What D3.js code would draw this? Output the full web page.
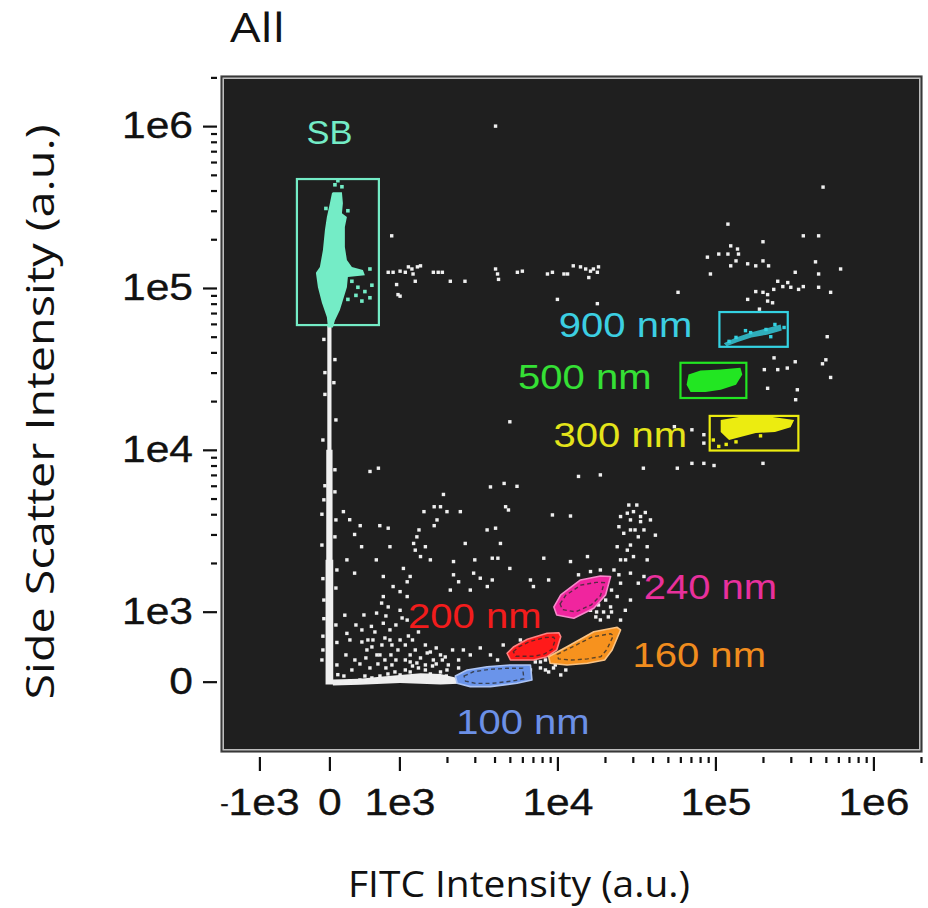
<!DOCTYPE html>
<html>
<head>
<meta charset="utf-8">
<script src="https://cdn.jsdelivr.net/npm/d3@7"></script>
<style>
  html, body { margin: 0; background: #ffffff; }
  svg { display: block; }
</style>
</head>
<body>
<svg id="chart" width="928" height="908"></svg>
<script>
// ---- axis ticks ----
const xMajorTicks  = [-1e3, 0, 1e3, 1e4, 1e5, 1e6];
const xMajorLabels = ["-1e3", "0", "1e3", "1e4", "1e5", "1e6"];
const yMajorTicks  = [0, 1e3, 1e4, 1e5, 1e6];
const yMajorLabels = ["0", "1e3", "1e4", "1e5", "1e6"];
const minorDecades = [1e3, 1e4, 1e5];
const minorSteps   = [2, 3, 4, 5, 6, 7, 8, 9];
const topMinor     = [2e6];

// ---- axis extents (FITC, side scatter) ----
const xExtent = [-1750, 2.03e6];
const yExtent = [-1005, 2.04e6];

// ---- gates: rectangles [[xmin, ymin], [xmax, ymax]] ----
const gateSB   = [[-464, 5.9e4], [707, 4.71e5]];
const gate900  = [[1.06e5, 4.33e4], [2.87e5, 7.1e4]];
const gate500  = [[6.01e4, 2.09e4], [1.57e5, 3.45e4]];
const gate300  = [[9.2e4, 9.9e3], [3.35e5, 1.62e4]];

// ---- gates: polygons (FITC, SSC) ----
const gate240 = [[9.5e3,1070],[1.05e4,1270],[1.4e4,1570],[1.87e4,1660],[2.17e4,1650],[2.02e4,1270],[1.7e4,1050],[1.27e4,906],[9.9e3,953]];
const gate200 = [[4.8e3,406],[5.3e3,500],[6.45e3,606],[8.6e3,692],[1.02e4,700],[1.05e4,643],[9.9e3,453],[8.6e3,357],[7.05e3,310],[5.04e3,310]];
const gate160 = [[8.8e3,357],[1.15e4,500],[1.7e4,714],[2.39e4,777],[2.51e4,739],[2.22e4,453],[1.99e4,310],[1.55e4,263],[1.15e4,239],[9.0e3,263]];
const gate100 = [[2.26e3,81],[2.68e3,167],[3.59e3,214],[5.04e3,239],[6.75e3,239],[6.9e3,24],[5.55e3,-23],[3.77e3,-71],[2.81e3,-71],[2.32e3,-23]];

// ---- dense populations (FITC, SSC) ----
const popSB = [[50,3.9e5],[179,3.9e5],[193,3.34e5],[179,2.9e5],[250,2.74e5],[221,2.38e5],[221,1.79e5],[250,1.49e5],[321,1.35e5],[479,1.29e5],[507,1.2e5],[264,1.17e5],[250,1.01e5],[193,8.4e4],[150,7.3e4],[79,6.3e4],[50,5.7e4],[-21,5.7e4],[-36,6.6e4],[-107,8.1e4],[-164,1.01e5],[-193,1.24e5],[-136,1.35e5],[-93,1.71e5],[-64,2.28e5],[-36,2.74e5],[7,3.34e5],[36,3.85e5]];
const pop500 = [[6.76e4,2.92e4],[8.05e4,3.09e4],[1.08e5,3.13e4],[1.44e5,3.22e4],[1.48e5,2.92e4],[1.35e5,2.52e4],[1.08e5,2.35e4],[8.66e4,2.28e4],[6.96e4,2.28e4],[6.57e4,2.52e4]];
const pop300 = [[1.08e5,1.53e4],[1.44e5,1.6e4],[2.24e5,1.6e4],[3.15e5,1.53e4],[2.99e5,1.38e4],[2.38e5,1.29e4],[1.8e5,1.27e4],[1.44e5,1.2e4],[1.22e5,1.15e4],[1.08e5,1.29e4]];
const pop900 = [[1.13e5,4.55e4],[1.35e5,4.95e4],[1.67e5,5.3e4],[2.09e5,5.62e4],[2.59e5,5.95e4],[2.63e5,5.46e4],[2.12e5,5.14e4],[1.69e5,4.95e4],[1.37e5,4.62e4],[1.18e5,4.36e4]];
const popStreak = [[-30,5.9e4],[30,5.9e4],[30,1e4],[45,1e4],[45,2.09e3],[55,2.09e3],[55,-40],[-55,-40],[-55,2.09e3],[-45,2.09e3],[-45,1e4],[-30,1e4]];
const popBase = [[50,-55],[50,30],[436,40],[722,70],[1010,95],[1360,120],[1820,110],[2260,60],[2370,-30],[1820,-40],[1010,-20],[436,-45]];

// ---- individual events (FITC, SSC) ----
const eventsAll = [
  [890,2.1e5],[840,1.25e5],[910,1.25e5],[1010,1.27e5],[1090,1.25e5],[1140,1.35e5],[1200,1.31e5],[1300,1.35e5],[1360,1.37e5],[1220,1.22e5],
  [1260,1.1e5],[960,1.05e5],[980,9.1e4],[1010,8.9e4],[1640,1.25e5],[1760,1.25e5],[1870,1.25e5],[2100,1.1e5],[2600,1.1e5],[4060,1.31e5],
  [4180,1.22e5],[4240,1.13e5],[5580,1.25e5],[6000,1.27e5],[8650,1.22e5],[9300,1.25e5],[1.1e4,1.22e5],[1.16e4,1.22e5],[1.26e4,1.37e5],[1.4e4,1.35e5],
  [1.51e4,1.31e5],[1.62e4,1.27e5],[1.69e4,1.31e5],[1.82e4,1.35e5],[1.58e4,1.16e5],[1.79e4,1.25e5],[1.0e4,8.5e4],[1.79e4,8.0e4],[5.8e4,9.4e4],
  [1.2e5,2.48e5],[1.25e5,1.82e5],[1.38e5,1.74e5],[1.4e5,1.62e5],[1.05e5,1.62e5],[1.2e5,1.62e5],[8.9e4,1.55e5],[1.35e5,1.47e5],[1.25e5,1.37e5],
  [9.3e4,1.22e5],[2.0e5,1.93e5],[1.6e5,1.41e5],[1.8e5,1.37e5],[2.0e5,1.47e5],[2.17e5,1.37e5],[3.6e5,2.1e5],[4.5e5,2.1e5],[4.3e5,1.45e5],
  [3.2e5,1.25e5],[4.5e5,1.22e5],[6.2e5,1.31e5],[2.48e5,1.1e5],[2.67e5,1.02e5],[2.87e5,1.08e5],[3.0e5,1.01e5],[3.36e5,9.8e4],[3.6e5,1.02e5],
  [2.34e5,9.8e4],[1.8e5,9.5e4],[2.0e5,9.4e4],[2.14e5,9.1e4],[4.5e5,1.01e5],[5.36e5,9.4e4],[1.6e5,8.5e4],[2.14e5,8.3e4],[2.3e5,8.1e4],
  [1.9e5,7.4e4],[5.1e5,5.0e4],[4.8e5,4.2e5],[4060,1.0e6],
  [2.35e5,3.7e4],[3.2e5,3.5e4],[5.0e5,3.6e4],[4.76e5,3.4e4],[2.04e5,3.13e4],[2.48e5,3.13e4],[2.85e5,3.2e4],[5.36e5,2.8e4],[2.14e5,2.4e4],
  [3.3e5,2.35e4],[3.22e5,2.04e4],[5.0e3,1.49e4],[5.5e4,1.39e4],[7.1e4,1.33e4],[8.45e4,1.24e4],[8.45e4,1.1e4],[7.1e4,8.25e3],[8.45e4,8.25e3],
  [9.8e4,8.0e3],[2.0e5,8.25e3],[3.5e4,7.7e3],[5.74e4,7.7e3],
  [580,7.35e3],[700,7.7e3],[3770,5.9e3],[4600,6.2e3],[5550,5.95e3],[1.36e4,6.85e3],[1.87e4,7.0e3],[1900,5.3e3],[200,4.15e3],[290,3.7e3],
  [1430,4.15e3],[1660,4.45e3],[1820,4.45e3],[2000,4.15e3],[2430,4.15e3],[1730,3.69e3],[1660,3.4e3],[4700,4.45e3],[4900,4.25e3],[9300,3.96e3],
  [1.21e4,3.9e3],[440,3.4e3],[720,3.4e3],[840,3.28e3],[1330,3.2e3],[1290,2.9e3],[3590,3.2e3],[4060,3.28e3],[360,3.0e3],[460,2.52e3],
  [865,2.52e3],[1230,2.64e3],[1260,2.4e3],[1460,2.52e3],[2610,2.64e3],[4360,2.64e3],[250,2.09e3],[670,2.09e3],[1360,2.19e3],[1570,2.09e3],
  [2200,2.04e3],[3000,2.09e3],[3870,2.14e3],[4200,2.14e3],[8200,2.14e3],[1.21e4,2.04e3],[1.55e4,2.19e3],[360,1.73e3],[770,1.65e3],[1060,1.85e3],
  [1170,1.65e3],[1120,1.53e3],[2200,1.69e3],[2950,1.73e3],[3250,1.61e3],[5000,1.85e3],[6750,1.57e3],[3870,1.57e3],[2370,1.53e3],[910,1.43e3],
  [1010,1.33e3],[770,1.24e3],[1120,1.24e3],[746,1.13e3],[840,1.07e3],[1010,1.02e3],[1120,880],[674,980],[600,790],[770,835],
  [865,740],[220,950],[250,690],[2100,1.36e3],[2810,1.36e3],[3600,1.43e3],[7050,1.43e3],[8800,1.57e3],[9900,1.07e3],[1.27e4,1.24e3],
  [1.36e4,1.69e3],[1.62e4,1.77e3],[1.87e4,1.81e3],
  [2.51e4,3.87e3],[2.77e4,4.06e3],[2.9e4,3.69e3],[3.03e4,4.15e3],[3.36e4,3.87e3],[2.45e4,3.35e3],[2.63e4,3.05e3],[2.9e4,3.2e3],[3.25e4,2.9e3],
  [3.53e4,3.2e3],[2.39e4,2.52e3],[2.77e4,2.4e3],[3.03e4,2.19e3],[3.7e4,2.09e3],[2.51e4,2.09e3],[3.7e4,2.52e3],[2.28e4,1.81e3],[2.9e4,1.73e3],
  [3.25e4,1.5e3],[2.51e4,1.5e3],[3.53e4,1.65e3],[2.39e4,1.24e3],[2.9e4,1.18e3],[2.69e4,1.02e3],[2.51e4,880],[2.17e4,1.07e3],
  [2.02e4,1.18e3],[2.2e4,1.36e3],[2.45e4,1.69e3],[2.7e4,2.09e3],[2.9e4,2.58e3],[3.1e4,3.2e3],[3.36e4,3.6e3],[3.6e4,4.1e3],[2.83e4,4.56e3],
  [3.18e4,4.56e3],[3.88e4,3.69e3],[4.17e4,2.97e3],[2.2e4,996],[1.77e4,996],
  [150,-19],[293,10],[436,24],[507,81],[607,53],[722,81],[836,110],[936,139],[1010,96],[1090,167],[1170,139],[1320,196],[1460,167],
  [1620,224],[1820,139],[1980,81],[2170,24],[536,453],[607,496],[679,382],[793,310],[893,239],[1290,267],[1500,410],[1640,310],
  [1820,382],[2000,167],[2370,310],[2540,453],[2810,382],[3250,482],[3770,382],[4180,310],[4540,524],[5830,596],[6750,453],[7810,282],
  [8400,167],[9450,196],[1.05e4,96],[1.13e4,167],[1.62e4,1020],[1.82e4,1100],[1.96e4,996],[2.1e4,925],[1.75e4,925],[1.87e4,882],
  [1090,310],[1170,382],[1260,453],[1360,339],[1460,524],[1570,424],[1710,482],[1870,310],[2040,239],[1210,224],[1400,81],[1570,110],
  [1760,53],[1930,-4],[1040,24],[936,53],[836,24],[664,24],[521,10],[379,-4],[236,-4],[121,-4],[579,196],[693,253],[807,196],[950,310],
  [436,253],[321,167],[207,81],[893,524],[1010,596],[1140,653],[793,624],[622,596],[464,567],
  [464,739],[550,596],[650,710],[750,524],[865,596],[979,453],[1090,524],[1210,596],[1320,710],[950,810],[1040,910],[807,939],[493,953],
  [379,810],[293,596],[236,382],[364,310],[521,339],[722,382],[879,382],[1170,282],[1460,239],[1710,253],[1950,353],[2170,453],[2370,196],
  [2540,96],[7250,282],[7810,196],[8800,139],[9700,239],[6750,167],[8400,310],
  [-79,4.81e4],[79,3.61e4],[-64,2.2e4],[93,1.53e4],[-93,1.15e4],[79,7.53e3],[-79,4.91e3],[93,3.69e3],[-107,2.58e3],[107,1.81e3],
  [-79,1.18e3],[93,810],[-93,453],[107,239],[-107,310],[120,100],[-93,650],[-64,3.0e4],[64,2.6e4],[-64,6.0e3],[79,5.5e3],
  [-93,1.6e3],[93,1.4e3],[-79,900],[107,560],[79,2.9e3],[-107,4.0e3]
];
const eventsSB   = [[321,1.1e5],[407,1.01e5],[507,9.5e4],[579,8.7e4],[379,9.0e4],[464,8.3e4],[607,1.04e5],[264,8.5e4],[579,1.31e5],
  [79,4.34e5],[179,4.22e5],[121,4.6e5],[264,3.0e5],[-50,3.1e5]];
const events300  = [[9.7e4,1.15e4],[1.05e5,1.05e4],[1.17e5,1.08e4],[1.35e5,1.12e4],[1.93e5,1.22e4]];
const events900  = [[1.22e5,4.68e4],[1.35e5,4.95e4],[1.67e5,5.3e4],[2.09e5,5.54e4],[2.38e5,5.95e4],[2.72e5,5.7e4],[1.55e5,5.45e4],[2.24e5,5.0e4]];

// ---- annotation anchors (FITC, SSC) ----
const gateLabels = [
  { text: "900 nm", at: [2.7e4, 5.95e4], color: "#3ccfe2" },
  { text: "500 nm", at: [1.49e4, 2.82e4], color: "#35e035" },
  { text: "300 nm", at: [2.5e4, 1.24e4], color: "#e4e41a" },
  { text: "240 nm", at: [9.3e4, 1.43e3], color: "#e8309c" },
  { text: "200 nm", at: [3.0e3, 940],   color: "#f21c1c" },
  { text: "160 nm", at: [7.9e4, 380],   color: "#f08c1e" },
  { text: "100 nm", at: [6.05e3, -570], color: "#6c90e6" }
];
const sbLabel = { text: "SB", at: [0, 9.25e5], color: "#74ecc6" };

// ---- layout ----
const panel = { left: 221, right: 922, top: 76, bottom: 752 };
const arial = "'Liberation Sans', Arial, sans-serif";
const humanist = "'Open Sans', 'Noto Sans', sans-serif";
const tickFontSize = 37;

// Logicle-like display: linear within +-1e3, logarithmic outside.
function biexTransform(k) {
  return v => {
    const a = Math.abs(v);
    if (a <= 1000) return v / 1000;
    return Math.sign(v) * (1 + k * Math.log10(a / 1000));
  };
}
function biexScale(k, domain, range) {
  const t = biexTransform(k);
  const lin = d3.scaleLinear().domain(domain.map(t)).range(range);
  const s = v => lin(t(v));
  s.domain = () => domain.slice();
  s.range = () => lin.range();
  s.copy = () => biexScale(k, domain, range);
  return s;
}

const x = biexScale(158 / 70, xExtent, [panel.left, panel.right]);
const y = biexScale(161.9 / 70, yExtent, [panel.bottom, panel.top]);

// widen glyphs horizontally by a factor, or to a fixed length
function stretch(sel, factor) {
  sel.each(function () {
    const n = this.getComputedTextLength();
    d3.select(this).attr("textLength", n * factor).attr("lengthAdjust", "spacingAndGlyphs");
  });
}
function fitLength(sel, len) {
  sel.attr("textLength", len).attr("lengthAdjust", "spacingAndGlyphs");
}

const svg = d3.select("#chart");

// title
svg.append("text")
  .attr("x", 230).attr("y", 42)
  .attr("font-family", humanist).attr("font-size", 40).attr("fill", "#111")
  .text("All").call(fitLength, 55);

// plot panel with framed border
svg.append("rect")
  .attr("x", panel.left).attr("y", panel.top)
  .attr("width", panel.right - panel.left).attr("height", panel.bottom - panel.top)
  .attr("fill", "#1f1f1f").attr("stroke", "#4a4a4a").attr("stroke-width", 1.2);
svg.append("rect")
  .attr("x", panel.left + 2.2).attr("y", panel.top + 2.2)
  .attr("width", panel.right - panel.left - 4.4).attr("height", panel.bottom - panel.top - 4.4)
  .attr("fill", "none").attr("stroke", "#bdbdbd").attr("stroke-width", 1.6);

svg.append("defs").append("clipPath").attr("id", "panel-clip")
  .append("rect")
  .attr("x", panel.left + 3.5).attr("y", panel.top + 3.5)
  .attr("width", panel.right - panel.left - 7).attr("height", panel.bottom - panel.top - 7);
const plot = svg.append("g").attr("clip-path", "url(#panel-clip)");

const line = d3.line().x(d => x(d[0])).y(d => y(d[1])).curve(d3.curveLinearClosed);

// dense white populations
plot.append("path").attr("d", line(popStreak)).attr("fill", "#f0f0f0");
plot.append("path").attr("d", line(popBase)).attr("fill", "#eeeeee");

// individual events
function dots(data, color, size) {
  plot.append("g").selectAll("rect").data(data).join("rect")
    .attr("x", d => x(d[0]) - size / 2)
    .attr("y", d => y(d[1]) - size / 2)
    .attr("width", size).attr("height", size)
    .attr("fill", color);
}
dots(eventsAll, "#f0f0f0", 3.4);

// bead populations inside rectangular gates
plot.append("path").attr("d", line(popSB)).attr("fill", "#74ecc6");
dots(eventsSB, "#74ecc6", 3.6);
plot.append("path").attr("d", line(pop500)).attr("fill", "#22e622");
plot.append("path").attr("d", line(pop300)).attr("fill", "#ecec10");
dots(events300, "#ecec10", 3.4);
plot.append("path").attr("d", line(pop900)).attr("fill", "#34d2e2").attr("opacity", 0.8);
dots(events900, "#34d2e2", 3.4);

// rectangular gates
function rectGate(g, color) {
  plot.append("rect")
    .attr("x", x(g[0][0])).attr("y", y(g[1][1]))
    .attr("width", x(g[1][0]) - x(g[0][0]))
    .attr("height", y(g[0][1]) - y(g[1][1]))
    .attr("fill", "none").attr("stroke", color).attr("stroke-width", 2.2);
}
rectGate(gateSB, "#74ecc6");
rectGate(gate900, "#34d2e2");
rectGate(gate500, "#22e622");
rectGate(gate300, "#ecec10");

// polygon gates: filled population, light rim, dashed inner outline
function polyGate(g, color) {
  const rim = d3.interpolateRgb(color, "#ffffff")(0.45);
  plot.append("path").attr("d", line(g)).attr("fill", color)
    .attr("stroke", rim).attr("stroke-width", 1.6).attr("stroke-linejoin", "round");
  const pts = g.map(d => [x(d[0]), y(d[1])]);
  const c = d3.polygonCentroid(pts);
  const inner = pts.map(p => [c[0] + (p[0] - c[0]) * 0.78, c[1] + (p[1] - c[1]) * 0.7]);
  plot.append("path").attr("d", d3.line().curve(d3.curveLinearClosed)(inner))
    .attr("fill", "none").attr("stroke", "#2a2a2a").attr("stroke-opacity", 0.75)
    .attr("stroke-width", 1.4).attr("stroke-dasharray", "4,3");
}
polyGate(gate100, "#6a94ea");
polyGate(gate200, "#ff1a1a");
polyGate(gate160, "#f7921e");
polyGate(gate240, "#f0259e");

// gate labels
svg.append("g").selectAll("text").data(gateLabels).join("text")
  .attr("x", d => x(d.at[0])).attr("y", d => y(d.at[1]))
  .attr("dy", "0.36em")
  .attr("text-anchor", "middle")
  .attr("font-family", arial).attr("font-size", 34.5)
  .attr("fill", d => d.color)
  .text(d => d.text)
  .call(stretch, 1.16);
svg.append("text")
  .attr("x", x(sbLabel.at[0])).attr("y", y(sbLabel.at[1]))
  .attr("dy", "0.36em").attr("text-anchor", "middle")
  .attr("font-family", arial).attr("font-size", 34)
  .attr("fill", sbLabel.color)
  .text(sbLabel.text).call(fitLength, 46);

// axes
const minorTicks = minorDecades.flatMap(d => minorSteps.map(m => m * d)).concat(topMinor);

const yMajorAxis = d3.axisLeft(y).tickValues(yMajorTicks)
  .tickFormat((d, i) => yMajorLabels[i]).tickSize(14).tickPadding(10);
const yMinorAxis = d3.axisLeft(y).tickValues(minorTicks).tickFormat("").tickSize(6);
const xMajorAxis = d3.axisBottom(x).tickValues(xMajorTicks)
  .tickFormat((d, i) => xMajorLabels[i]).tickSize(14).tickPadding(18);
const xMinorAxis = d3.axisBottom(x).tickValues(minorTicks).tickFormat("").tickSize(6);

function styleAxis(g) {
  g.select(".domain").remove();
  g.selectAll("line").attr("stroke", "#111").attr("stroke-width", 2.2);
  g.selectAll("text").attr("font-family", arial).attr("font-size", tickFontSize).attr("fill", "#111")
    .attr("stroke", "#111").attr("stroke-width", 0.35);
}
// the leading minus of a negative label is drawn small and raised
function smallMinus(g) {
  g.selectAll("text").filter(d => d < 0).each(function () {
    const t = d3.select(this);
    const s = t.text();
    const base = 0.71 * tickFontSize;
    t.attr("dy", null).text(null);
    t.append("tspan").attr("font-size", 22).attr("dy", base - 4).text(s.slice(0, 1));
    t.append("tspan").attr("dy", 4).text(s.slice(1));
  });
}
function widen(g) { g.selectAll("text").call(stretch, 1.15); }

svg.append("g").attr("transform", `translate(${panel.left - 4},0)`).call(yMajorAxis).call(styleAxis).call(widen);
svg.append("g").attr("transform", `translate(${panel.left - 4},0)`).call(yMinorAxis).call(styleAxis);
svg.append("g").attr("transform", `translate(0,${panel.bottom + 5})`).call(xMajorAxis).call(styleAxis).call(smallMinus).call(widen);
svg.append("g").attr("transform", `translate(0,${panel.bottom + 5})`).call(xMinorAxis).call(styleAxis);

// axis titles
svg.append("text")
  .attr("x", 519).attr("y", 897)
  .attr("text-anchor", "middle")
  .attr("font-family", humanist).attr("font-size", 37).attr("fill", "#111")
  .text("FITC Intensity (a.u.)").call(fitLength, 342);
svg.append("text")
  .attr("transform", "translate(54,412) rotate(-90)")
  .attr("text-anchor", "middle")
  .attr("font-family", humanist).attr("font-size", 38).attr("fill", "#111")
  .text("Side Scatter Intensity (a.u.)").call(fitLength, 575);
</script>
</body>
</html>
